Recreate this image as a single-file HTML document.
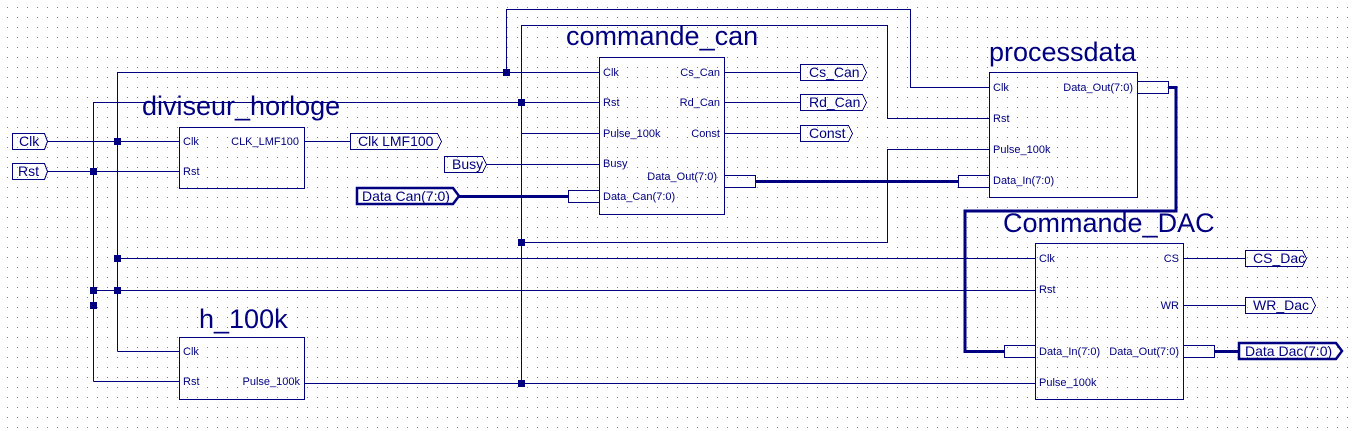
<!DOCTYPE html>
<html><head><meta charset="utf-8"><style>
html,body{margin:0;padding:0;background:#fff;}
svg{display:block;}
text{font-family:"Liberation Sans",Arial,sans-serif;fill:#000080;}
.p{font-size:11px;}
.t{font-size:27px;}
.o{font-size:14px;}
</style></head><body>
<svg width="1353" height="431" viewBox="0 0 1353 431" xmlns="http://www.w3.org/2000/svg">
<defs><pattern id="g" x="0" y="0" width="10" height="10" patternUnits="userSpaceOnUse"><rect x="7" y="7" width="1" height="1" fill="#808080"/></pattern></defs>
<rect width="1353" height="431" fill="#fff"/>
<rect width="1353" height="431" fill="url(#g)"/>
<g stroke="#000080" fill="none" stroke-width="1" shape-rendering="crispEdges">
<rect x="179.5" y="127.5" width="125" height="61"/>
<rect x="599.5" y="57.5" width="125" height="157"/>
<rect x="989.5" y="72.5" width="148" height="125"/>
<rect x="1035.5" y="243.5" width="148" height="156"/>
<rect x="179.5" y="337.5" width="125" height="62"/>
<polyline points="47,141.5 179,141.5"/>
<polyline points="47,171.5 179,171.5"/>
<polyline points="304,141.5 350,141.5"/>
<polyline points="117.5,351.5 117.5,72.5 599,72.5"/>
<polyline points="179,351.5 117.5,351.5"/>
<polyline points="93.5,381.5 93.5,102.5 599,102.5"/>
<polyline points="179,381.5 93.5,381.5"/>
<polyline points="506.5,72.5 506.5,9.5 910.5,9.5 910.5,87.5 989,87.5"/>
<polyline points="521.5,383.5 521.5,25.5 887.5,25.5 887.5,118.5 989,118.5"/>
<polyline points="521.5,242.5 887.5,242.5 887.5,149.5 989,149.5"/>
<polyline points="521.5,133.5 599,133.5"/>
<polyline points="486,164.5 599,164.5"/>
<polyline points="117.5,258.5 1035,258.5"/>
<polyline points="93.5,290.5 1035,290.5"/>
<polyline points="304,383.5 1035,383.5"/>
<polyline points="724,72.5 800,72.5"/>
<polyline points="724,102.5 800,102.5"/>
<polyline points="724,133.5 800,133.5"/>
<polyline points="1183,258.5 1245,258.5"/>
<polyline points="1183,305.5 1245,305.5"/>
<rect x="568.5" y="190.5" width="31" height="12"/>
<rect x="724.5" y="175.5" width="31" height="12"/>
<rect x="958.5" y="175.5" width="31" height="12"/>
<rect x="1137.5" y="81.5" width="31" height="12"/>
<rect x="1004.5" y="345.5" width="31" height="12"/>
<rect x="1183.5" y="345.5" width="31" height="12"/>
<polygon points="12.5,133.5 44.5,133.5 47.5,141.5 44.5,149.5 12.5,149.5"/>
<polygon points="12.5,163.5 44.5,163.5 47.5,171.5 44.5,179.5 12.5,179.5"/>
<polygon points="350.5,133.5 437.5,133.5 441.5,141.5 437.5,149.5 350.5,149.5"/>
<polygon points="444.5,156.5 482.5,156.5 486.5,164.5 482.5,172.5 444.5,172.5"/>
<polygon points="800.5,64.5 862.5,64.5 866.5,72.5 862.5,80.5 800.5,80.5"/>
<polygon points="800.5,94.5 862.5,94.5 866.5,102.5 862.5,110.5 800.5,110.5"/>
<polygon points="800.5,125.5 848.5,125.5 852.5,133.5 848.5,141.5 800.5,141.5"/>
<polygon points="1245.5,250.5 1302.5,250.5 1306.5,258.5 1302.5,266.5 1245.5,266.5"/>
<polygon points="1245.5,297.5 1311.5,297.5 1315.5,305.5 1311.5,313.5 1245.5,313.5"/>
</g>
<g stroke="#000080" fill="none" stroke-width="3">
<polyline points="458,196.5 568,196.5"/>
<polyline points="755,181.5 958,181.5"/>
<polyline points="1168,87.5 1176,87.5 1176,211 965,211 965,351.5 1004,351.5"/>
<polyline points="1214,351.5 1238,351.5"/>
<polygon points="357,188 453,188 459,196 453,204 357,204" stroke-width="2.5"/>
<polygon points="1239,343 1336,343 1342,351 1336,359 1239,359" stroke-width="2.5"/>
</g>
<g fill="#000080">
<rect x="114" y="138" width="7" height="7"/><rect x="90" y="168" width="7" height="7"/>
<rect x="503" y="69" width="7" height="7"/><rect x="518" y="99" width="7" height="7"/>
<rect x="518" y="239" width="7" height="7"/><rect x="518" y="380" width="7" height="7"/>
<rect x="114" y="255" width="7" height="7"/><rect x="114" y="287" width="7" height="7"/>
<rect x="90" y="287" width="7" height="7"/><rect x="90" y="302" width="7" height="7"/>
</g>
<text class="t" x="142" y="115">diviseur_horloge</text>
<text class="t" x="566" y="45">commande_can</text>
<text class="t" x="989" y="61">processdata</text>
<text class="t" x="1003" y="232">Commande_DAC</text>
<text class="t" x="199" y="328">h_100k</text>
<text class="p" x="183" y="145">Clk</text><text class="p" x="183" y="175">Rst</text>
<text class="p" x="299" y="145" text-anchor="end">CLK_LMF100</text>
<text class="p" x="603" y="76">Clk</text><text class="p" x="603" y="106">Rst</text>
<text class="p" x="603" y="137">Pulse_100k</text><text class="p" x="603" y="167">Busy</text>
<text class="p" x="603" y="200">Data_Can(7:0)</text>
<text class="p" x="720" y="76" text-anchor="end">Cs_Can</text>
<text class="p" x="720" y="106" text-anchor="end">Rd_Can</text>
<text class="p" x="720" y="137" text-anchor="end">Const</text>
<text class="p" x="717" y="180" text-anchor="end">Data_Out(7:0)</text>
<text class="p" x="993" y="91">Clk</text><text class="p" x="993" y="122">Rst</text>
<text class="p" x="993" y="153">Pulse_100k</text><text class="p" x="993" y="184">Data_In(7:0)</text>
<text class="p" x="1133" y="91" text-anchor="end">Data_Out(7:0)</text>
<text class="p" x="1039" y="262">Clk</text><text class="p" x="1039" y="293">Rst</text>
<text class="p" x="1039" y="355">Data_In(7:0)</text><text class="p" x="1039" y="386">Pulse_100k</text>
<text class="p" x="1179" y="262" text-anchor="end">CS</text>
<text class="p" x="1179" y="309" text-anchor="end">WR</text>
<text class="p" x="1179" y="355" text-anchor="end">Data_Out(7:0)</text>
<text class="p" x="183" y="355">Clk</text><text class="p" x="183" y="385">Rst</text>
<text class="p" x="300" y="385" text-anchor="end">Pulse_100k</text>
<text class="o" x="19" y="146">Clk</text><text class="o" x="18" y="176">Rst</text>
<text class="o" x="358" y="146">Clk LMF100</text>
<text class="o" x="452" y="169">Busy</text>
<text class="o" x="362" y="201">Data Can(7:0)</text>
<text class="o" x="809" y="77">Cs_Can</text><text class="o" x="809" y="107">Rd_Can</text>
<text class="o" x="809" y="138">Const</text>
<text class="o" x="1253" y="263">CS_Dac</text><text class="o" x="1253" y="310">WR_Dac</text>
<text class="o" x="1245" y="356">Data Dac(7:0)</text>
</svg>
</body></html>
